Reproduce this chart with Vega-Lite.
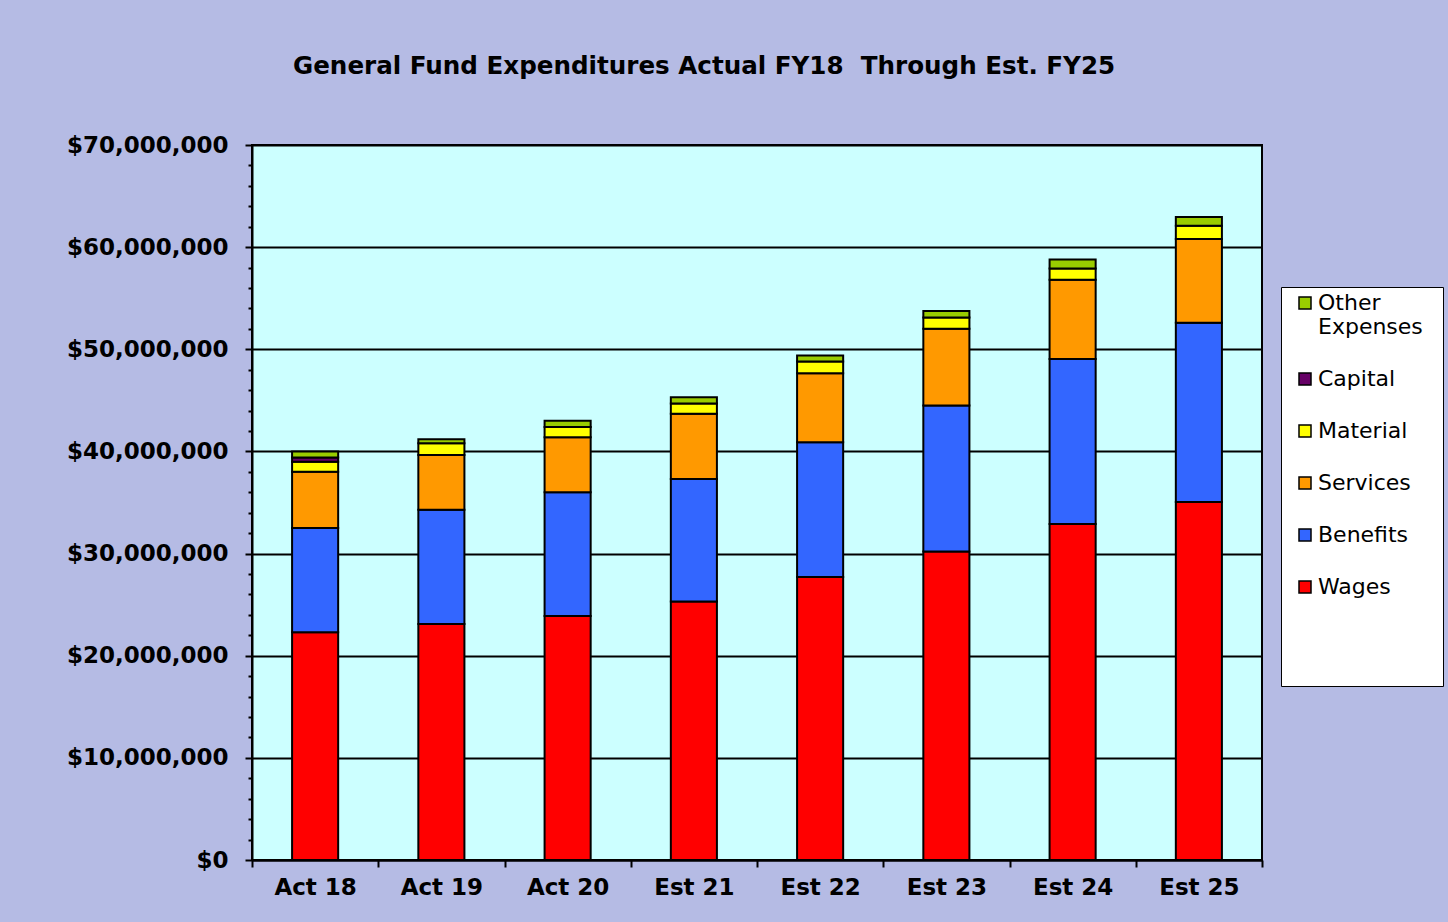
{
  "$schema": "https://vega.github.io/schema/vega-lite/v6.json",
  "width": 1010,
  "height": 715,
  "autosize": {"type": "none"},
  "padding": {"left": 252, "top": 145, "right": 186, "bottom": 62},
  "background": "#b5bbe4",
  "title": {
    "text": "General Fund Expenditures Actual FY18\u00a0 Through Est. FY25",
    "anchor": "start",
    "frame": "group",
    "dx": 41,
    "offset": 54,
    "font": "DejaVu Sans",
    "fontSize": 24.6,
    "fontWeight": "bold",
    "color": "black"
  },
  "data": {
    "values": [
      {"year": "Act 18", "category": "Wages", "amount": 22300000},
      {"year": "Act 18", "category": "Benefits", "amount": 10200000},
      {"year": "Act 18", "category": "Services", "amount": 5500000},
      {"year": "Act 18", "category": "Material", "amount": 1000000},
      {"year": "Act 18", "category": "Capital", "amount": 400000},
      {"year": "Act 18", "category": "Other Expenses", "amount": 600000},
      {"year": "Act 19", "category": "Wages", "amount": 23100000},
      {"year": "Act 19", "category": "Benefits", "amount": 11200000},
      {"year": "Act 19", "category": "Services", "amount": 5350000},
      {"year": "Act 19", "category": "Material", "amount": 1150000},
      {"year": "Act 19", "category": "Other Expenses", "amount": 400000},
      {"year": "Act 20", "category": "Wages", "amount": 23900000},
      {"year": "Act 20", "category": "Benefits", "amount": 12100000},
      {"year": "Act 20", "category": "Services", "amount": 5400000},
      {"year": "Act 20", "category": "Material", "amount": 1000000},
      {"year": "Act 20", "category": "Other Expenses", "amount": 600000},
      {"year": "Est 21", "category": "Wages", "amount": 25300000},
      {"year": "Est 21", "category": "Benefits", "amount": 12000000},
      {"year": "Est 21", "category": "Services", "amount": 6400000},
      {"year": "Est 21", "category": "Material", "amount": 1000000},
      {"year": "Est 21", "category": "Other Expenses", "amount": 600000},
      {"year": "Est 22", "category": "Wages", "amount": 27700000},
      {"year": "Est 22", "category": "Benefits", "amount": 13200000},
      {"year": "Est 22", "category": "Services", "amount": 6750000},
      {"year": "Est 22", "category": "Material", "amount": 1150000},
      {"year": "Est 22", "category": "Other Expenses", "amount": 600000},
      {"year": "Est 23", "category": "Wages", "amount": 30200000},
      {"year": "Est 23", "category": "Benefits", "amount": 14300000},
      {"year": "Est 23", "category": "Services", "amount": 7500000},
      {"year": "Est 23", "category": "Material", "amount": 1100000},
      {"year": "Est 23", "category": "Other Expenses", "amount": 650000},
      {"year": "Est 24", "category": "Wages", "amount": 32900000},
      {"year": "Est 24", "category": "Benefits", "amount": 16150000},
      {"year": "Est 24", "category": "Services", "amount": 7750000},
      {"year": "Est 24", "category": "Material", "amount": 1100000},
      {"year": "Est 24", "category": "Other Expenses", "amount": 900000},
      {"year": "Est 25", "category": "Wages", "amount": 35050000},
      {"year": "Est 25", "category": "Benefits", "amount": 17550000},
      {"year": "Est 25", "category": "Services", "amount": 8200000},
      {"year": "Est 25", "category": "Material", "amount": 1300000},
      {"year": "Est 25", "category": "Other Expenses", "amount": 850000}
    ]
  },
  "transform": [
    {"calculate": "indexof(['Wages','Benefits','Services','Material','Capital','Other Expenses'], datum.category)", "as": "stackOrder"}
  ],
  "mark": {"type": "bar", "stroke": "black", "strokeWidth": 2, "width": {"band": 0.365}},
  "encoding": {
    "x": {
      "field": "year",
      "type": "nominal",
      "sort": null,
      "scale": {"paddingInner": 0, "paddingOuter": 0},
      "axis": {
        "title": null,
        "labelAngle": 0,
        "labelFont": "DejaVu Sans",
        "labelFontSize": 23,
        "labelFontWeight": "bold",
        "labelColor": "black",
        "labelPadding": 9,
        "tickBand": "extent",
        "tickSize": 7,
        "tickWidth": 2,
        "tickColor": "black",
        "domainColor": "black",
        "domainWidth": 2
      }
    },
    "y": {
      "field": "amount",
      "type": "quantitative",
      "stack": "zero",
      "scale": {"domain": [0, 70000000], "nice": false},
      "axis": {
        "title": null,
        "values": [0, 2000000, 4000000, 6000000, 8000000, 10000000, 12000000, 14000000, 16000000, 18000000, 20000000, 22000000, 24000000, 26000000, 28000000, 30000000, 32000000, 34000000, 36000000, 38000000, 40000000, 42000000, 44000000, 46000000, 48000000, 50000000, 52000000, 54000000, 56000000, 58000000, 60000000, 62000000, 64000000, 66000000, 68000000, 70000000],
        "labelExpr": "datum.value % 10000000 == 0 ? '$' + format(datum.value, ',') : ''",
        "labelFont": "DejaVu Sans",
        "labelFontSize": 23,
        "labelFontWeight": "bold",
        "labelColor": "black",
        "labelPadding": 17,
        "tickSize": {"condition": {"test": "datum.value % 10000000 == 0", "value": 7}, "value": 4},
        "tickWidth": 2,
        "tickColor": "black",
        "domainColor": "black",
        "domainWidth": 2,
        "grid": true,
        "gridColor": {"condition": {"test": "datum.value % 10000000 == 0", "value": "black"}, "value": "transparent"},
        "gridWidth": 2,
        "gridOpacity": 1
      }
    },
    "color": {
      "field": "category",
      "type": "nominal",
      "scale": {
        "domain": ["Other Expenses", "Capital", "Material", "Services", "Benefits", "Wages"],
        "range": ["#99cc00", "#660066", "#ffff00", "#ff9900", "#3366ff", "#ff0000"]
      },
      "legend": {
        "orient": "none",
        "legendX": 1029,
        "legendY": 142,
        "title": "MMMMMMMM",
        "titleOrient": "bottom",
        "titleAnchor": "start",
        "titlePadding": 62,
        "titleFontSize": 21.9,
        "titleFont": "DejaVu Sans",
        "titleFontWeight": "normal",
        "titleColor": "white",
        "titleOpacity": 0,
        "titleLimit": 400,
        "fillColor": "white",
        "strokeColor": "black",
        "padding": 5,
        "symbolOffset": 8,
        "symbolType": "square",
        "symbolSize": 144,
        "symbolStrokeColor": "black",
        "symbolStrokeWidth": 1.5,
        "symbolOpacity": 1,
        "labelFont": "DejaVu Sans",
        "labelFontSize": 22,
        "labelColor": "black",
        "labelOffset": 2,
        "labelBaseline": "middle",
        "rowPadding": 30,
        "labelExpr": "datum.label == 'Other Expenses' ? ['Other', 'Expenses'] : datum.label"
      }
    },
    "order": {"field": "stackOrder", "type": "quantitative", "sort": "ascending"}
  },
  "config": {
    "view": {"fill": "#ccffff", "stroke": "black", "strokeWidth": 2}
  }
}
